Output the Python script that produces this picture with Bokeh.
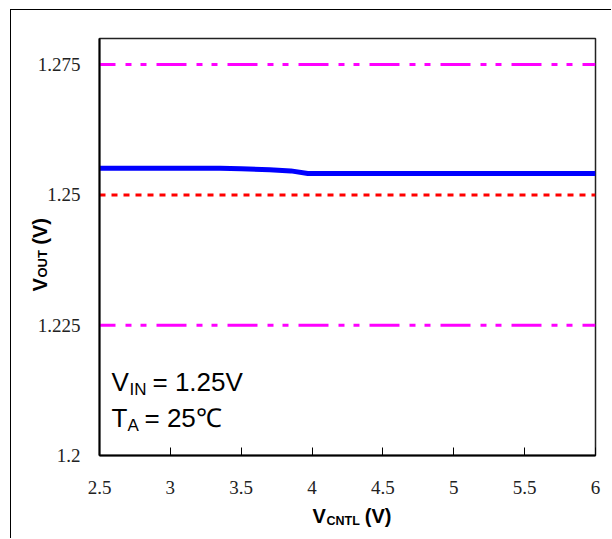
import math
from bokeh.plotting import figure
from bokeh.models import Range1d, Label, FixedTicker
from bokeh.embed import file_html
from bokeh.resources import INLINE

# ---- data ----
vcntl = [2.5, 3.0, 3.35, 3.5, 3.7, 3.85, 3.97, 4.5, 5.0, 5.5, 6.0]
vout = [1.2551, 1.2551, 1.2551, 1.2550, 1.2548, 1.2546, 1.2541, 1.2541, 1.2541, 1.2541, 1.2541]
limit_x = [2.5, 6.0]
upper_limit = [1.275, 1.275]
nominal = [1.25, 1.25]
lower_limit = [1.225, 1.225]
x_ticks = [2.5, 3, 3.5, 4, 4.5, 5, 5.5, 6]
x_tick_labels = ["2.5", "3", "3.5", "4", "4.5", "5", "5.5", "6"]
y_ticks = [1.2, 1.225, 1.25, 1.275]
y_tick_labels = ["1.2", "1.225", "1.25", "1.275"]

X0, X1, Y0, Y1 = 2.5, 6.0, 1.2, 1.28
# frame position on the page (px)
FL, FT, FR, FB = 99, 38, 595, 455
NB = "\u00a0"


def dx(px):
    return X0 + (px - FL) * (X1 - X0) / (FR - FL)


def dy(py):
    return Y0 + (FB - py) * (Y1 - Y0) / (FB - FT)


p = figure(width=601, height=529, output_backend="svg", toolbar_location=None,
           x_range=Range1d(X0, X1), y_range=Range1d(Y0, Y1),
           min_border_left=88, min_border_right=17, min_border_top=28, min_border_bottom=84)
p.styles = {"border-left": "1px solid black", "border-top": "1px solid black",
            "margin-left": "10px", "margin-top": "9px"}
p.outline_line_color = "#222222"
p.outline_line_width = 1.5
p.xgrid.visible = False
p.ygrid.visible = False

p.xaxis.ticker = FixedTicker(ticks=x_ticks)
p.yaxis.ticker = FixedTicker(ticks=y_ticks)
p.xaxis.major_label_overrides = {t: s for t, s in zip(x_ticks, x_tick_labels)}
p.yaxis.major_label_overrides = {t: s for t, s in zip(y_ticks, y_tick_labels)}
for ax in (p.xaxis, p.yaxis):
    ax.axis_line_color = "black"
    ax.axis_line_width = 2
    ax.minor_tick_line_color = None
    ax.major_label_text_font = "Liberation Serif"
    ax.major_label_text_font_size = "19px"
    ax.major_label_text_color = "#222222"
p.xaxis.major_tick_in = 8
p.xaxis.major_tick_out = 0
p.xaxis.major_tick_line_color = "black"
p.xaxis.major_label_standoff = 25
p.yaxis.major_tick_in = 0
p.yaxis.major_tick_out = 0
p.yaxis.major_label_standoff = 19

p.line(limit_x, upper_limit, line_color="#ff00ff", line_width=3, line_dash="30 10 6 9 6 10", line_dash_offset=14)
p.line(limit_x, lower_limit, line_color="#ff00ff", line_width=3, line_dash="30 10 6 9 6 10", line_dash_offset=14)
p.line(limit_x, nominal, line_color="#ff0000", line_width=3, line_dash="6 6")
p.line(vcntl, vout, line_color="#0000ff", line_width=5)


def lab(px, py, text, size, bold=False, angle=0.0, place="center"):
    lbl = Label(x=dx(px), y=dy(py), text=text, text_font="Liberation Sans",
                text_font_size=f"{size}px",
                text_font_style="bold" if bold else "normal",
                text_color="black", text_align="left",
                text_baseline="middle", angle=angle)
    p.add_layout(lbl, place)


# x axis title: V_CNTL (V)  (page px of left edge, cap centre)
lab(312, 515, "V" + NB * 7 + "(V)", 20, True, place="below")
lab(326, 520, "CNTL", 12.5, True, place="above")
# y axis title: V_OUT (V), rotated
lab(39, 291, "V" + NB * 6 + "(V)", 20, True, math.pi / 2, place="left")
lab(42, 277, "OUT", 13, True, math.pi / 2, place="right")
# conditions
lab(111, 381, "V", 26)
lab(129, 389, "IN", 17)
lab(152, 381, "= 1.25V", 26)
lab(111, 417, "T", 26)
lab(127, 425, "A", 17)
lab(144, 417, "= 25℃", 26)

open("out.html", "w").write(file_html(p, INLINE))
